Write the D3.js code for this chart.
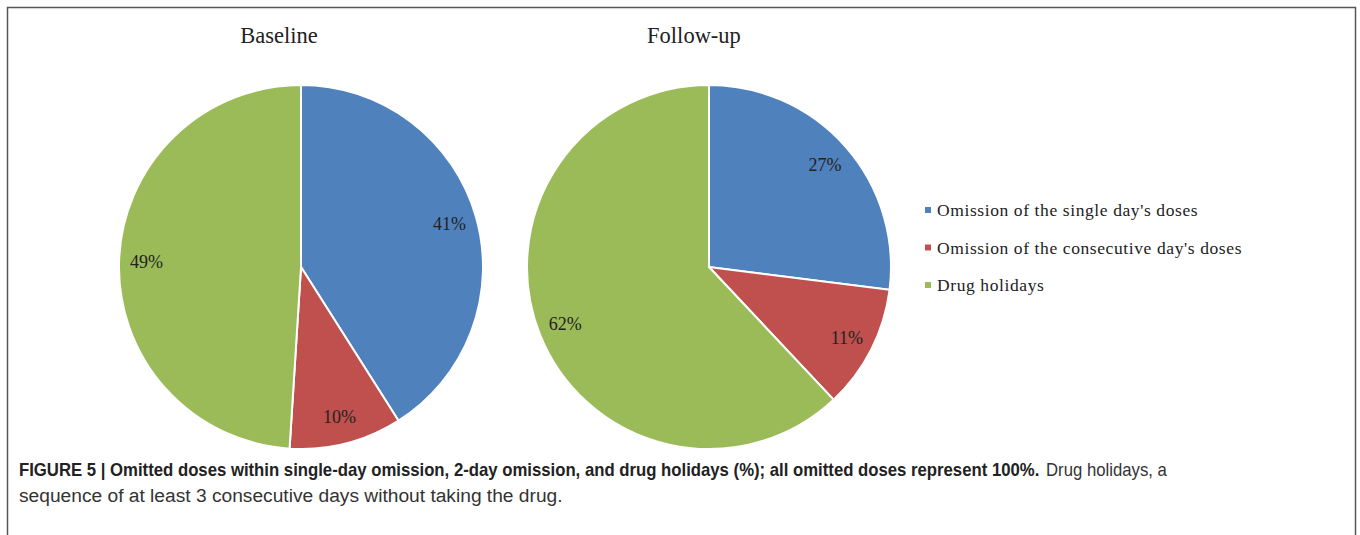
<!DOCTYPE html>
<html>
<head>
<meta charset="utf-8">
<script src="https://cdn.jsdelivr.net/npm/d3@7"></script>
<style>
  html, body { margin: 0; padding: 0; background: #fff; }
  svg { display: block; }
</style>
</head>
<body>
<svg id="chart" width="1360" height="535"></svg>
<script>
const categories = ["Omission of the single day's doses", "Omission of the consecutive day's doses", "Drug holidays"];
const panels = ["Baseline", "Follow-up"];
const baselineValues = [41, 10, 49];
const followupValues = [27, 11, 62];
const colors = ["#4f81bd", "#c0504d", "#9bbb59"];
const captionBold = "FIGURE 5 | Omitted doses within single-day omission, 2-day omission, and drug holidays (%); all omitted doses represent 100%.";
const captionNormal1 = "Drug holidays, a";
const captionLine2 = "sequence of at least 3 consecutive days without taking the drug.";

const svg = d3.select("#chart");
const serif = "'Liberation Serif', 'Times New Roman', serif";
const sans = "'Liberation Sans', Arial, sans-serif";

// frame
svg.append("rect").attr("x", 7.5).attr("y", 7.5).attr("width", 1348).attr("height", 540)
  .attr("fill", "none").attr("stroke", "#555").attr("stroke-width", 1.5);

const R = 182;
const centers = [[301, 267], [709, 267]];
const titleX = [279, 694];
const seriesList = [baselineValues, followupValues];

const pie = d3.pie().sort(null).value(d => d);
const arc = d3.arc().innerRadius(0).outerRadius(R);
const labelArc = d3.arc().innerRadius(R * 0.85).outerRadius(R * 0.85);
const color = d3.scaleOrdinal().domain(d3.range(categories.length)).range(colors);

seriesList.forEach((vals, pi) => {
  const g = svg.append("g").attr("transform", `translate(${centers[pi][0]},${centers[pi][1]})`);
  const arcs = pie(vals);
  g.selectAll("path").data(arcs).enter().append("path")
    .attr("d", arc)
    .attr("fill", (d, i) => color(i))
    .attr("stroke", "#fff").attr("stroke-width", 2);
  g.selectAll("text.lbl").data(arcs).enter().append("text")
    .attr("class", "lbl")
    .attr("transform", d => `translate(${labelArc.centroid(d)})`)
    .attr("text-anchor", "middle").attr("dy", "0.35em")
    .attr("font-family", serif)
    .attr("font-size", 18).attr("fill", "#222")
    .text(d => d.data + "%");
  svg.append("text")
    .attr("x", titleX[pi]).attr("y", 43)
    .attr("text-anchor", "middle")
    .attr("font-family", serif)
    .attr("font-size", 22.5).attr("fill", "#222")
    .text(panels[pi]);
});

// legend
const lg = svg.append("g").attr("transform", "translate(925,210)");
categories.forEach((c, i) => {
  const row = lg.append("g").attr("transform", `translate(0,${i * 37.5})`);
  row.append("rect").attr("x", 0).attr("y", -3).attr("width", 6).attr("height", 6).attr("fill", colors[i]);
  row.append("text").attr("x", 12).attr("y", 6)
    .attr("font-family", serif)
    .attr("font-size", 17.5).attr("fill", "#222").attr("letter-spacing", 0.6)
    .text(c);
});

// caption: each piece scaled horizontally to the reference's extents
function fitText(str, x0, x1, y, weight, fill) {
  const g = svg.append("g");
  const t = g.append("text").attr("x", 0).attr("y", y)
    .attr("font-family", sans).attr("font-size", 19)
    .attr("font-weight", weight).attr("fill", fill).text(str);
  const w = t.node().getComputedTextLength();
  const sx = w > 0 ? (x1 - x0) / w : 1;
  g.attr("transform", `translate(${x0},0) scale(${sx},1)`);
}
fitText(captionBold, 19, 1040, 476, "bold", "#222");
fitText(captionNormal1, 1046, 1167, 476, "normal", "#333");
fitText(captionLine2, 19, 563, 502, "normal", "#333");
</script>
</body>
</html>
